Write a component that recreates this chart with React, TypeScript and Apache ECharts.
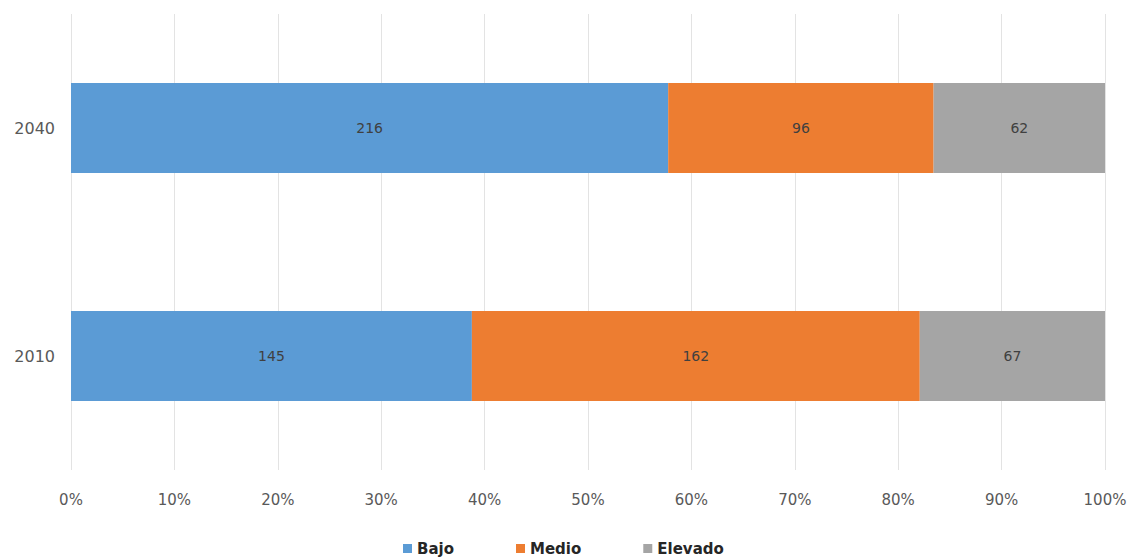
import React, { useEffect, useRef } from "react";
import * as echarts from "echarts";

const categories = ["2010", "2040"];
const seriesNames = ["Bajo", "Medio", "Elevado"];
const bajo = [145, 216];
const medio = [162, 96];
const elevado = [67, 62];
const colors = ["#5B9BD5", "#ED7D31", "#A5A5A5"];

export default function App() {
  const ref = useRef<HTMLDivElement>(null);
  useEffect(() => {
    if (!ref.current) return;
    document.body.style.margin = "0";
    document.body.style.overflow = "hidden";
    const chart = echarts.init(ref.current, undefined, { renderer: "svg" });
    const raw = [bajo, medio, elevado];
    const totals = categories.map((_, i) => raw.reduce((s, arr) => s + arr[i], 0));
    const font = "'DejaVu Sans', sans-serif";
    chart.setOption({
      animation: false,
      grid: { left: 71, right: 26, top: 14, bottom: 88, containLabel: false },
      legend: {
        top: 536,
        left: 398,
        itemWidth: 9,
        itemHeight: 9,
        itemGap: 62,
        icon: "rect",
        textStyle: { fontFamily: font, fontSize: 15, fontWeight: "bold", color: "#262626" },
        data: seriesNames,
      },
      xAxis: {
        type: "value",
        min: 0,
        max: 100,
        interval: 10,
        axisLabel: {
          formatter: "{value}%",
          fontFamily: font,
          fontSize: 15,
          color: "#595959",
          margin: 22,
        },
        axisLine: { show: false },
        axisTick: { show: false },
        splitLine: { show: true, lineStyle: { color: "#E3E3E3", width: 1 } },
      },
      yAxis: {
        type: "category",
        data: categories,
        axisLine: { show: false },
        axisTick: { show: false },
        axisLabel: { fontFamily: font, fontSize: 16, color: "#595959", margin: 16 },
      },
      series: seriesNames.map((name, si) => ({
        name,
        type: "bar",
        stack: "total",
        barWidth: 90,
        itemStyle: { color: colors[si] },
        label: {
          show: true,
          position: "inside",
          fontFamily: font,
          fontSize: 14,
          color: "#404040",
          formatter: (p: any) => String(raw[si][p.dataIndex]),
        },
        data: raw[si].map((v, i) => (v / totals[i]) * 100),
      })),
    });
    return () => chart.dispose();
  }, []);
  return <div ref={ref} style={{ width: 1131, height: 558 }} />;
}
